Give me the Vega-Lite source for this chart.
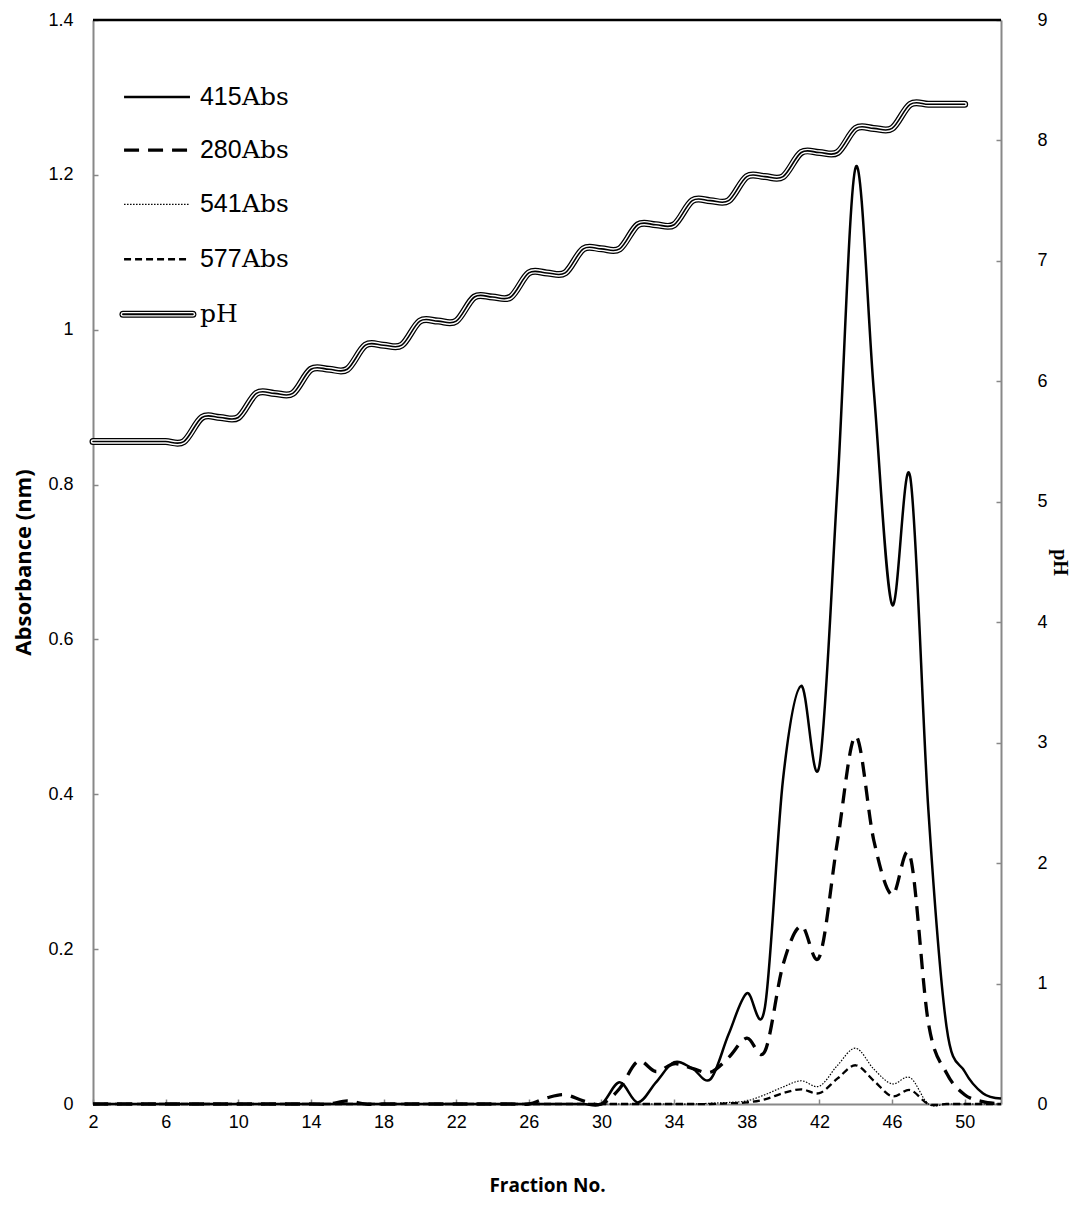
{
  "$schema": "https://vega.github.io/schema/vega-lite/v6.json",
  "width": 908,
  "height": 1084,
  "autosize": {"type": "none"},
  "padding": {"left": 93, "top": 20, "right": 72, "bottom": 122},
  "background": "white",
  "config": {"view": {"stroke": null}, "axis": {"grid": false}},
  "datasets": {
    "abs": [
      {"f": 2, "a415": 0, "a280": 0, "a541": 0, "a577": 0},
      {"f": 3, "a415": 0, "a280": 0, "a541": 0, "a577": 0},
      {"f": 4, "a415": 0, "a280": 0, "a541": 0, "a577": 0},
      {"f": 5, "a415": 0, "a280": 0, "a541": 0, "a577": 0},
      {"f": 6, "a415": 0, "a280": 0, "a541": 0, "a577": 0},
      {"f": 7, "a415": 0, "a280": 0, "a541": 0, "a577": 0},
      {"f": 8, "a415": 0, "a280": 0, "a541": 0, "a577": 0},
      {"f": 9, "a415": 0, "a280": 0, "a541": 0, "a577": 0},
      {"f": 10, "a415": 0, "a280": 0, "a541": 0, "a577": 0},
      {"f": 11, "a415": 0, "a280": 0, "a541": 0, "a577": 0},
      {"f": 12, "a415": 0, "a280": 0, "a541": 0, "a577": 0},
      {"f": 13, "a415": 0, "a280": 0, "a541": 0, "a577": 0},
      {"f": 14, "a415": 0, "a280": 0, "a541": 0, "a577": 0},
      {"f": 15, "a415": 0, "a280": 0, "a541": 0, "a577": 0},
      {"f": 16, "a415": 0, "a280": 0.004, "a541": 0, "a577": 0},
      {"f": 17, "a415": 0, "a280": 0, "a541": 0, "a577": 0},
      {"f": 18, "a415": 0, "a280": 0, "a541": 0, "a577": 0},
      {"f": 19, "a415": 0, "a280": 0, "a541": 0, "a577": 0},
      {"f": 20, "a415": 0, "a280": 0, "a541": 0, "a577": 0},
      {"f": 21, "a415": 0, "a280": 0, "a541": 0, "a577": 0},
      {"f": 22, "a415": 0, "a280": 0, "a541": 0, "a577": 0},
      {"f": 23, "a415": 0, "a280": 0, "a541": 0, "a577": 0},
      {"f": 24, "a415": 0, "a280": 0, "a541": 0, "a577": 0},
      {"f": 25, "a415": 0, "a280": 0, "a541": 0, "a577": 0},
      {"f": 26, "a415": 0, "a280": 0, "a541": 0, "a577": 0},
      {"f": 27, "a415": 0, "a280": 0.008, "a541": 0, "a577": 0},
      {"f": 28, "a415": 0, "a280": 0.012, "a541": 0, "a577": 0},
      {"f": 29, "a415": 0, "a280": 0.004, "a541": 0, "a577": 0},
      {"f": 30, "a415": 0, "a280": 0, "a541": 0, "a577": 0},
      {"f": 31, "a415": 0.028, "a280": 0.02, "a541": 0, "a577": 0},
      {"f": 32, "a415": 0.002, "a280": 0.055, "a541": 0, "a577": 0},
      {"f": 33, "a415": 0.028, "a280": 0.042, "a541": 0, "a577": 0},
      {"f": 34, "a415": 0.054, "a280": 0.052, "a541": 0, "a577": 0},
      {"f": 35, "a415": 0.046, "a280": 0.046, "a541": 0, "a577": 0},
      {"f": 36, "a415": 0.032, "a280": 0.041, "a541": 0.001, "a577": 0},
      {"f": 37, "a415": 0.09, "a280": 0.06, "a541": 0.002, "a577": 0.001},
      {"f": 38, "a415": 0.143, "a280": 0.085, "a541": 0.004, "a577": 0.002},
      {"f": 39, "a415": 0.125, "a280": 0.068, "a541": 0.012, "a577": 0.006},
      {"f": 40, "a415": 0.42, "a280": 0.18, "a541": 0.022, "a577": 0.014},
      {"f": 41, "a415": 0.54, "a280": 0.23, "a541": 0.03, "a577": 0.019},
      {"f": 42, "a415": 0.437, "a280": 0.19, "a541": 0.023, "a577": 0.014},
      {"f": 43, "a415": 0.8, "a280": 0.34, "a541": 0.05, "a577": 0.033},
      {"f": 44, "a415": 1.21, "a280": 0.475, "a541": 0.072, "a577": 0.05},
      {"f": 45, "a415": 0.92, "a280": 0.34, "a541": 0.045, "a577": 0.03},
      {"f": 46, "a415": 0.645, "a280": 0.27, "a541": 0.026, "a577": 0.01},
      {"f": 47, "a415": 0.81, "a280": 0.32, "a541": 0.034, "a577": 0.018},
      {"f": 48, "a415": 0.38, "a280": 0.105, "a541": 0, "a577": 0},
      {"f": 49, "a415": 0.1, "a280": 0.04, "a541": 0, "a577": 0},
      {"f": 50, "a415": 0.042, "a280": 0.012, "a541": 0, "a577": 0},
      {"f": 51, "a415": 0.014, "a280": 0.003, "a541": 0, "a577": 0},
      {"f": 52, "a415": 0.007, "a280": 0, "a541": 0, "a577": 0}
    ],
    "ph": [
      {"f": 2, "pH": 5.5}, {"f": 3, "pH": 5.5}, {"f": 4, "pH": 5.5}, {"f": 5, "pH": 5.5}, {"f": 6, "pH": 5.5}, {"f": 7, "pH": 5.5},
      {"f": 8, "pH": 5.7}, {"f": 9, "pH": 5.7}, {"f": 10, "pH": 5.7},
      {"f": 11, "pH": 5.9}, {"f": 12, "pH": 5.9}, {"f": 13, "pH": 5.9},
      {"f": 14, "pH": 6.1}, {"f": 15, "pH": 6.1}, {"f": 16, "pH": 6.1},
      {"f": 17, "pH": 6.3}, {"f": 18, "pH": 6.3}, {"f": 19, "pH": 6.3},
      {"f": 20, "pH": 6.5}, {"f": 21, "pH": 6.5}, {"f": 22, "pH": 6.5},
      {"f": 23, "pH": 6.7}, {"f": 24, "pH": 6.7}, {"f": 25, "pH": 6.7},
      {"f": 26, "pH": 6.9}, {"f": 27, "pH": 6.9}, {"f": 28, "pH": 6.9},
      {"f": 29, "pH": 7.1}, {"f": 30, "pH": 7.1}, {"f": 31, "pH": 7.1},
      {"f": 32, "pH": 7.3}, {"f": 33, "pH": 7.3}, {"f": 34, "pH": 7.3},
      {"f": 35, "pH": 7.5}, {"f": 36, "pH": 7.5}, {"f": 37, "pH": 7.5},
      {"f": 38, "pH": 7.7}, {"f": 39, "pH": 7.7}, {"f": 40, "pH": 7.7},
      {"f": 41, "pH": 7.9}, {"f": 42, "pH": 7.9}, {"f": 43, "pH": 7.9},
      {"f": 44, "pH": 8.1}, {"f": 45, "pH": 8.1}, {"f": 46, "pH": 8.1},
      {"f": 47, "pH": 8.3}, {"f": 48, "pH": 8.3}, {"f": 49, "pH": 8.3}, {"f": 50, "pH": 8.3}
    ]
  },
  "encoding": {
    "x": {
      "field": "f",
      "type": "quantitative",
      "scale": {"domain": [2, 52], "nice": false, "zero": false},
      "axis": {
        "values": [2, 6, 10, 14, 18, 22, 26, 30, 34, 38, 42, 46, 50],
        "labelFont": "Liberation Sans",
        "labelFontSize": 18,
        "labelColor": "black",
        "labelFlush": false,
        "labelOverlap": false,
        "tickColor": "#888888",
        "tickSize": -5,
        "tickWidth": 1.5,
        "domainColor": "#888888",
        "domainWidth": 2,
        "labelPadding": 14,
        "title": "Fraction  No.",
        "titleFont": "Open Sans",
        "titleFontSize": 19,
        "titleFontWeight": "bold",
        "titleColor": "black",
        "titlePadding": 45
      }
    }
  },
  "layer": [
    {
      "data": {"name": "abs"},
      "encoding": {
        "y": {
          "field": "v",
          "type": "quantitative",
          "scale": {"domain": [0, 1.4], "nice": false, "zero": true},
          "axis": {
            "orient": "left",
            "values": [0, 0.2, 0.4, 0.6, 0.8, 1, 1.2, 1.4],
            "format": "~g",
            "labelFont": "Liberation Sans",
            "labelFontSize": 18,
            "labelColor": "black",
            "labelFlush": false,
            "labelOverlap": false,
            "tickColor": "#888888",
            "tickSize": -5,
            "tickWidth": 1.5,
            "domainColor": "#888888",
            "domainWidth": 2,
            "labelPadding": 25,
            "title": "Absorbance (nm)",
            "titleFont": "Open Sans",
            "titleFontSize": 22,
            "titleFontWeight": "bold",
            "titleColor": "black",
            "titlePadding": 12
          }
        }
      },
      "layer": [
        {
          "transform": [{"fold": ["a541"], "as": ["s", "v"]}],
          "mark": {"type": "line", "color": "black", "strokeWidth": 1.2, "strokeDash": [1.5, 1.5], "interpolate": "cardinal", "tension": 0}
        },
        {
          "transform": [{"fold": ["a577"], "as": ["s", "v"]}],
          "mark": {"type": "line", "color": "black", "strokeWidth": 2.3, "strokeDash": [7, 4], "interpolate": "cardinal", "tension": 0}
        },
        {
          "transform": [{"fold": ["a280"], "as": ["s", "v"]}],
          "mark": {"type": "line", "color": "black", "strokeWidth": 3.3, "strokeDash": [15, 9], "interpolate": "cardinal", "tension": 0}
        },
        {
          "transform": [{"fold": ["a415"], "as": ["s", "v"]}],
          "mark": {"type": "line", "color": "black", "strokeWidth": 2.5, "interpolate": "cardinal", "tension": 0}
        },
        {
          "data": {"values": [{"f": 2, "f2": 52, "v": 1.4}]},
          "mark": {"type": "rule", "color": "black", "strokeWidth": 2.5},
          "encoding": {"x2": {"field": "f2"}}
        },
        {
          "data": {"values": [{"f": 3.71, "f2": 7.34, "v": 1.3005}]},
          "mark": {"type": "rule", "color": "black", "strokeWidth": 2.5},
          "encoding": {"x2": {"field": "f2"}}
        },
        {
          "data": {"values": [{"f": 3.71, "f2": 7.34, "v": 1.232}]},
          "mark": {"type": "rule", "color": "black", "strokeWidth": 3.3, "strokeDash": [15, 9]},
          "encoding": {"x2": {"field": "f2"}}
        },
        {
          "data": {"values": [{"f": 3.71, "f2": 7.34, "v": 1.162}]},
          "mark": {"type": "rule", "color": "black", "strokeWidth": 1.2, "strokeDash": [1.5, 1.5]},
          "encoding": {"x2": {"field": "f2"}}
        },
        {
          "data": {"values": [{"f": 3.71, "f2": 7.34, "v": 1.091}]},
          "mark": {"type": "rule", "color": "black", "strokeWidth": 2.3, "strokeDash": [7, 4]},
          "encoding": {"x2": {"field": "f2"}}
        },
        {
          "data": {"values": [{"f": 3.65, "f2": 7.5, "v": 1.02}]},
          "mark": {"type": "rule", "color": "black", "strokeWidth": 7, "strokeCap": "round"},
          "encoding": {"x2": {"field": "f2"}}
        },
        {
          "data": {"values": [{"f": 3.65, "f2": 7.5, "v": 1.02}]},
          "mark": {"type": "rule", "color": "white", "strokeWidth": 4.5, "strokeCap": "round"},
          "encoding": {"x2": {"field": "f2"}}
        },
        {
          "data": {"values": [{"f": 3.65, "f2": 7.5, "v": 1.02}]},
          "mark": {"type": "rule", "color": "black", "strokeWidth": 1.8, "strokeCap": "round"},
          "encoding": {"x2": {"field": "f2"}}
        },
        {
          "data": {"values": [
            {"f": 7.89, "v": 1.3005, "t": "415", "u": "Abs"},
            {"f": 7.89, "v": 1.232, "t": "280", "u": "Abs"},
            {"f": 7.89, "v": 1.162, "t": "541", "u": "Abs"},
            {"f": 7.89, "v": 1.091, "t": "577", "u": "Abs"}
          ]},
          "mark": {"type": "text", "align": "left", "baseline": "middle", "font": "Liberation Sans", "fontSize": 25, "color": "black"},
          "encoding": {"text": {"field": "t"}}
        },
        {
          "data": {"values": [
            {"f": 7.89, "v": 1.3005, "t": "415", "u": "Abs"},
            {"f": 7.89, "v": 1.232, "t": "280", "u": "Abs"},
            {"f": 7.89, "v": 1.162, "t": "541", "u": "Abs"},
            {"f": 7.89, "v": 1.091, "t": "577", "u": "Abs"}
          ]},
          "mark": {"type": "text", "align": "left", "baseline": "middle", "dx": 42, "font": "DejaVu Serif", "fontSize": 25, "color": "black"},
          "encoding": {"text": {"field": "u"}}
        },
        {
          "data": {"values": [{"f": 7.89, "v": 1.02, "t": "pH"}]},
          "mark": {"type": "text", "align": "left", "baseline": "middle", "font": "DejaVu Serif", "fontSize": 25, "color": "black"},
          "encoding": {"text": {"field": "t"}}
        }
      ]
    },
    {
      "data": {"name": "ph"},
      "encoding": {
        "y": {
          "field": "pH",
          "type": "quantitative",
          "scale": {"domain": [0, 9], "nice": false},
          "axis": {
            "orient": "right",
            "values": [0, 1, 2, 3, 4, 5, 6, 7, 8, 9],
            "labelFont": "Liberation Sans",
            "labelFontSize": 18,
            "labelColor": "black",
            "labelFlush": false,
            "labelOverlap": false,
            "tickColor": "#888888",
            "tickSize": -5,
            "tickWidth": 1.5,
            "domainColor": "#888888",
            "domainWidth": 2,
            "labelPadding": 41,
            "title": "pH",
            "titleFont": "Liberation Serif",
            "titleFontSize": 20,
            "titleFontWeight": "bold",
            "titleColor": "black",
            "titlePadding": 2
          }
        }
      },
      "layer": [
        {"mark": {"type": "line", "color": "black", "strokeWidth": 7, "interpolate": "cardinal", "tension": 0, "strokeCap": "round"}},
        {"mark": {"type": "line", "color": "white", "strokeWidth": 4.5, "interpolate": "cardinal", "tension": 0, "strokeCap": "round"}},
        {"mark": {"type": "line", "color": "black", "strokeWidth": 1.6, "interpolate": "cardinal", "tension": 0, "strokeCap": "round"}}
      ]
    }
  ],
  "resolve": {"scale": {"y": "independent"}}
}
